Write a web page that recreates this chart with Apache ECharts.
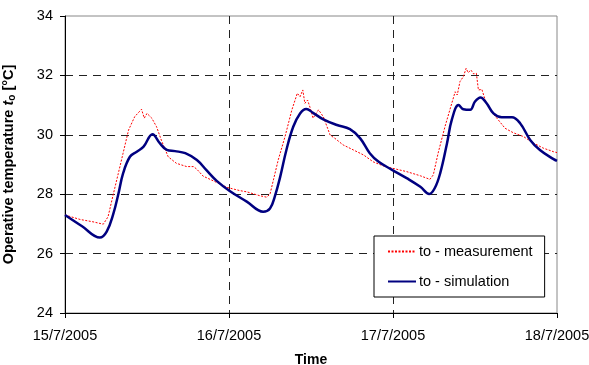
<!DOCTYPE html>
<html><head><meta charset="utf-8">
<script src="https://cdn.jsdelivr.net/npm/echarts@6/dist/echarts.min.js"></script>
<style>html,body{margin:0;padding:0;background:#fff}#c{width:589px;height:365px}</style>
</head><body><div id="c"></div>
<script>
const xTickLabels = ["15/7/2005", "16/7/2005", "17/7/2005", "18/7/2005"];
const measHours = [0,2.2,4.1,5.6,6.3,7.1,7.8,8.5,9.3,10.2,11.2,11.6,12.0,12.7,13.4,14.1,15.1,16.3,17.8,18.8,19.3,20.2,21.7,23.7,25.6,26.6,28.5,29.5,30.0,30.5,31.2,32.2,33.2,34.0,34.4,34.8,35.1,35.5,35.9,36.3,37.1,37.8,38.8,39.5,40.7,42.2,43.7,45.1,46.6,48.0,50.0,52.0,53.4,53.9,54.6,55.6,56.6,57.1,57.4,57.8,58.3,58.7,59.0,59.4,59.8,60.2,60.5,61.0,61.5,62.2,63.2,64.4,65.6,67.1,68.5,70.0,71.5,72];
const measTemp = [27.30,27.15,27.07,26.99,27.24,28.03,28.70,29.38,30.16,30.61,30.86,30.56,30.72,30.56,30.27,29.82,29.26,29.04,28.93,28.93,28.84,28.61,28.45,28.23,28.12,28.08,27.95,27.90,28.00,28.48,29.15,29.94,30.84,31.40,31.28,31.51,31.06,31.17,30.89,30.56,30.84,30.61,29.99,29.88,29.66,29.49,29.32,29.09,28.95,28.87,28.76,28.62,28.50,28.65,29.38,30.27,31.06,31.45,31.34,31.79,31.96,32.24,32.09,32.18,32.05,32.07,31.51,31.53,31.17,30.84,30.56,30.22,30.07,29.94,29.73,29.55,29.43,29.40];
const simHours = [0,2.5,5.1,6.1,7.1,7.8,8.5,9.5,10.5,11.5,12.8,13.9,14.9,16.1,17.6,19.3,20.7,22.2,24.1,26.6,29.0,30.0,30.7,31.5,32.4,33.4,34.4,35.3,36.3,37.8,39.8,41.7,43.2,44.6,45.9,47.8,50.0,52.0,53.3,54.1,54.9,55.9,56.6,57.6,58.3,59.3,60.0,60.8,61.7,62.7,63.9,65.4,66.6,68.1,69.5,71.5,72];
const simTemp = [27.30,26.92,26.54,26.74,27.36,28.00,28.70,29.26,29.43,29.60,30.02,29.71,29.49,29.45,29.38,29.15,28.81,28.45,28.11,27.75,27.41,27.52,27.92,28.59,29.49,30.27,30.72,30.87,30.74,30.52,30.33,30.19,29.88,29.38,29.09,28.83,28.54,28.25,28.01,28.20,28.70,29.71,30.50,31.00,30.86,30.84,31.12,31.26,31.06,30.72,30.59,30.59,30.39,29.82,29.49,29.18,29.12];

const pairs = (xs, ys) => xs.map((x, i) => [x, ys[i]]);
const chart = echarts.init(document.getElementById('c'), null, {renderer: 'canvas'});
const font = 'Liberation Sans, Arial, sans-serif';
chart.setOption({
  animation: false,
  backgroundColor: '#fff',
  grid: {left: 65, right: 32, top: 16, bottom: 52, outerBoundsMode: 'none', containLabel: false, show: true, borderColor: '#888', borderWidth: 1, backgroundColor: 'transparent'},
  xAxis: {
    type: 'value', min: 0, max: 72, interval: 24,
    name: 'Time', nameLocation: 'middle', nameGap: 40,
    nameTextStyle: {fontFamily: font, fontSize: 14, fontWeight: 'bold', color: '#000'},
    axisLine: {lineStyle: {color: '#000', width: 1}},
    axisTick: {show: true, length: 5, lineStyle: {color: '#000'}},
    axisLabel: {margin: 15, fontFamily: font, fontSize: 14.5, color: '#000', formatter: v => xTickLabels[Math.round(v / 24)]},
    splitLine: {show: true, showMaxLine: false, showMinLine: false, lineStyle: {color: '#222', type: [8, 6], width: 1}}
  },
  yAxis: {
    type: 'value', min: 24, max: 34, interval: 2,
    name: '{b|Operative temperature }{i|t}{s|o}{b| [°C]}',
    nameLocation: 'middle', nameGap: 48, nameRotate: 90,
    nameTextStyle: {
      rich: {
        b: {fontFamily: font, fontSize: 14.5, fontWeight: 'bold', color: '#000'},
        i: {fontFamily: font, fontSize: 14.5, fontWeight: 'bold', fontStyle: 'italic', color: '#000'},
        s: {fontFamily: font, fontSize: 10, fontWeight: 'bold', color: '#000', verticalAlign: 'bottom', padding: [6, 0, 0, 0]}
      }
    },
    axisLine: {show: true, lineStyle: {color: '#000', width: 1}},
    axisTick: {show: true, length: 5, lineStyle: {color: '#000'}},
    axisLabel: {margin: 12, fontFamily: font, fontSize: 14.5, color: '#000'},
    splitLine: {show: true, showMaxLine: false, showMinLine: false, lineStyle: {color: '#222', type: [8, 6], width: 1}}
  },
  legend: {
    orient: 'vertical', left: 374, top: 236,
    padding: [8, 12, 8, 13], itemGap: 15, itemWidth: 28, itemHeight: 14,
    backgroundColor: '#fff', borderColor: '#000', borderWidth: 1,
    itemStyle: {opacity: 0},
    textStyle: {fontFamily: font, fontSize: 14.5, color: '#000', padding: [0, 0, 0, -2]},
    data: ['to - measurement', 'to - simulation']
  },
  series: [
    {
      name: 'to - measurement', type: 'line', data: pairs(measHours, measTemp),
      showSymbol: false, symbol: 'none', smooth: false,
      lineStyle: {color: '#ff0000', width: 1, type: [2, 1.5]}, itemStyle: {color: '#ff0000'}, z: 3
    },
    {
      name: 'to - simulation', type: 'line', data: pairs(simHours, simTemp),
      showSymbol: false, symbol: 'none', smooth: 0.4,
      lineStyle: {color: '#000080', width: 2.5}, itemStyle: {color: '#000080'}, z: 4
    }
  ]
});
</script></body></html>
